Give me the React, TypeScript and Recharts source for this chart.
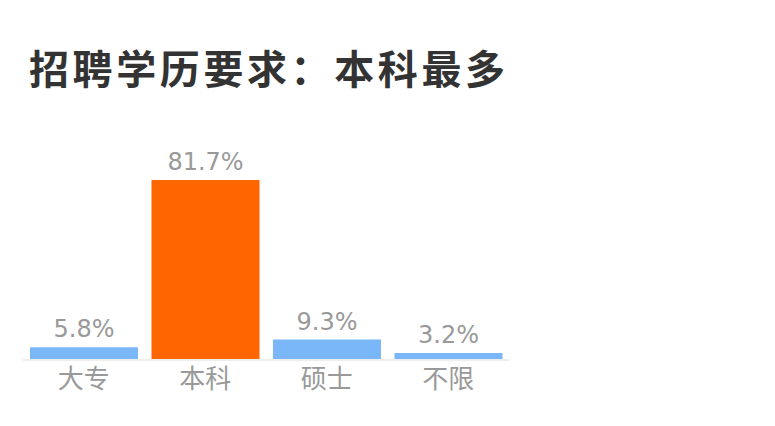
import { Bar, BarChart, Cell, LabelList, XAxis, YAxis } from "recharts";

const TITLE = "招聘学历要求：本科最多";
const CATEGORIES = ["大专", "本科", "硕士", "不限"];
const SHARES = [5.8, 81.7, 9.3, 3.2];
const HIGHLIGHT = "本科";

const BLUE = "#79b7f9";
const ORANGE = "#ff6600";
const GRAY = "#999999";
const FONT = "'Noto Sans CJK SC', 'Noto Sans', sans-serif";

const data = CATEGORIES.map((name, i) => ({ name, value: SHARES[i] }));

export default function App() {
  return (
    <div
      style={{
        position: "absolute",
        left: 0,
        top: 0,
        width: 775,
        height: 426,
        background: "#fff",
        fontFamily: FONT,
      }}
    >
      <div
        style={{
          position: "absolute",
          left: 29,
          top: 40,
          fontSize: 40,
          fontWeight: 700,
          color: "#333",
          lineHeight: "54px",
          letterSpacing: 3.6,
          whiteSpace: "nowrap",
        }}
      >
        {TITLE}
      </div>
      <BarChart
        width={775}
        height={426}
        data={data}
        margin={{ top: 180, right: 266, bottom: 0, left: 23 }}
        barCategoryGap={7}
      >
        <YAxis hide domain={[0, "dataMax"]} />
        <XAxis
          dataKey="name"
          height={66}
          tickLine={false}
          axisLine={{ stroke: "#eeeeee", strokeWidth: 2 }}
          tick={{ fill: GRAY, fontSize: 26, fontFamily: FONT }}
          tickMargin={4}
          interval={0}
        />
        <Bar dataKey="value" isAnimationActive={false}>
          {data.map((d) => (
            <Cell key={d.name} fill={d.name === HIGHLIGHT ? ORANGE : BLUE} />
          ))}
          <LabelList
            dataKey="value"
            position="top"
            offset={10}
            formatter={(v: number) => `${v}%`}
            style={{ fill: GRAY, fontSize: 24, fontFamily: "'DejaVu Sans', sans-serif" }}
          />
        </Bar>
      </BarChart>
    </div>
  );
}
